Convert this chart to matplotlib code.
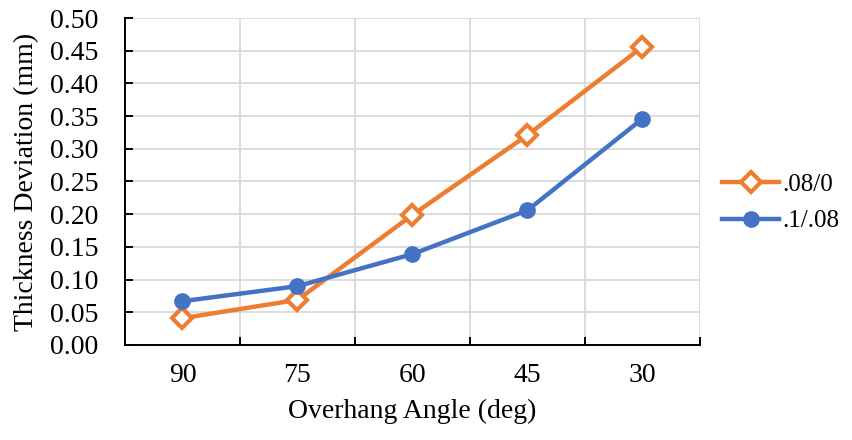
import numpy as np
import matplotlib.pyplot as plt
from matplotlib.ticker import MultipleLocator, FixedLocator

plt.rcParams['font.family'] = ['Liberation Serif', 'DejaVu Serif']

# data
angles = ['90', '75', '60', '45', '30']
dev_08_0 = [0.041, 0.069, 0.199, 0.321, 0.456]
dev_1_08 = [0.067, 0.090, 0.139, 0.206, 0.346]

orange = '#ED7D31'
blue = '#4472C4'
grid = '#D9D9D9'

fig = plt.figure(figsize=(8.53, 4.40), dpi=100)
ax = fig.add_axes([125/853, 1-345/440, 575/853, 327/440])

x = np.arange(len(angles))
ax.plot(x, dev_08_0, color=orange, linewidth=3.2, marker='D', markersize=10,
        markerfacecolor='white', markeredgecolor=orange, markeredgewidth=3.0,
        label='.08/0', zorder=3)
ax.plot(x, dev_1_08, color=blue, linewidth=3.2, marker='o', markersize=11,
        markerfacecolor=blue, markeredgecolor=blue, label='.1/.08', zorder=3)

ax.set_xlim(-0.5, len(angles) - 0.5)
ax.set_ylim(0, 0.5)
ax.yaxis.set_major_locator(MultipleLocator(0.05))
ax.yaxis.set_major_formatter(plt.FuncFormatter(lambda v, p: '%.2f' % v))
ax.set_xticks(x)
ax.set_xticklabels(angles)
ax.xaxis.set_minor_locator(FixedLocator(np.arange(0.5, len(angles), 1.0)))

# gridlines: horizontal on y ticks, vertical between categories
ax.grid(axis='y', which='major', color=grid, linewidth=1.3)
ax.grid(axis='x', which='minor', color=grid, linewidth=1.3)
ax.set_axisbelow(True)

for s in ['top', 'right']:
    ax.spines[s].set_visible(False)
ax.spines['left'].set_color('black')
ax.spines['left'].set_linewidth(1.4)
ax.spines['bottom'].set_color('black')
ax.spines['bottom'].set_linewidth(1.4)

ax.tick_params(axis='y', which='major', direction='in', length=6, width=1.4,
               labelsize=20, pad=19)
ax.tick_params(axis='x', which='major', length=0, labelsize=20, pad=13)
ax.tick_params(axis='x', which='minor', direction='in', length=6, width=1.4)

ax.set_xlabel('Overhang Angle (deg)', fontsize=20, labelpad=8)
ax.set_ylabel('Thickness Deviation (mm)', fontsize=20, labelpad=8)

fig.legend(loc='center left', bbox_to_anchor=(722/853, 1-203/440), frameon=False,
           fontsize=18, handlelength=2.3, handletextpad=0.1, labelspacing=0.55,
           borderpad=0, borderaxespad=0)

fig.savefig('out.png', dpi=100)
